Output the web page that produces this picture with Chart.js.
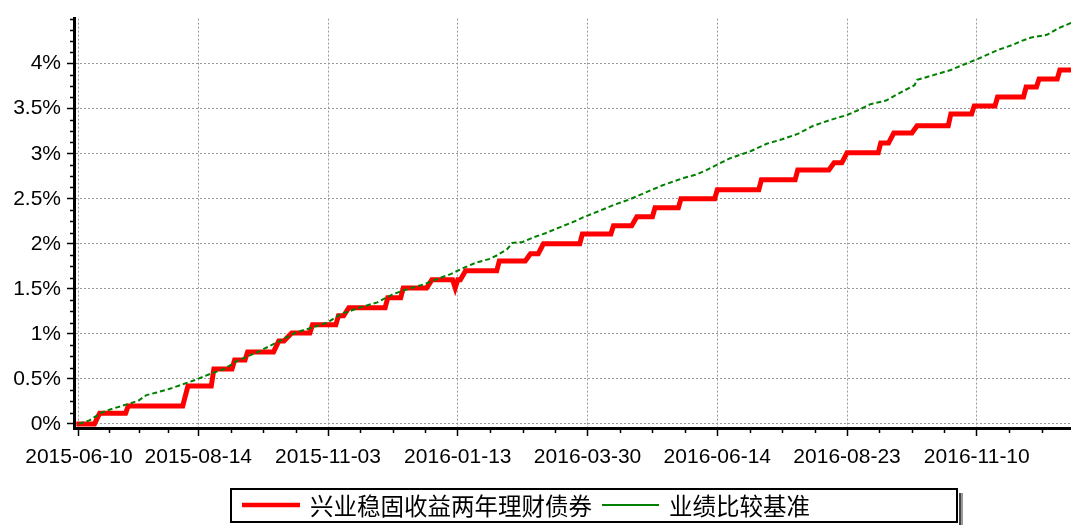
<!DOCTYPE html>
<html>
<head>
<meta charset="utf-8">
<script src="https://cdn.jsdelivr.net/npm/chart.js@4.4.0/dist/chart.umd.min.js"></script>
<style>
  html, body { margin: 0; padding: 0; background: #fff; }
</style>
</head>
<body>
<canvas id="navChart" width="1071" height="525"></canvas>
<script>
// x axis = trading day index, 0 is 2015-06-10
const tickDays = [0, 46, 96, 146, 196, 246, 296, 346];
const tickLabels = ['2015-06-10', '2015-08-14', '2015-11-03', '2016-01-13',
  '2016-03-30', '2016-06-14', '2016-08-23', '2016-11-10'];
const yTicks = [0, 0.5, 1, 1.5, 2, 2.5, 3, 3.5, 4];

const seriesNames = ['兴业稳固收益两年理财债券', '业绩比较基准'];

// fund return (%), only the corners of the step curve
const fundDays = [-1, 6, 8, 18, 19, 40, 42, 51, 52, 59, 60, 64, 65, 75, 77, 79, 82, 89, 90,
  99, 100, 102, 104, 118, 119, 124, 125, 134, 136, 144, 145, 146, 147, 149, 161, 162,
  172, 174, 177, 179, 193, 194, 205, 206, 213, 215, 221, 222, 231, 232, 245, 246,
  262, 263, 276, 277, 289, 291, 294, 296, 308, 309, 312, 314, 321, 323, 335, 336,
  344, 345, 353, 354, 364, 365, 369, 370, 377, 378, 383];
const fundValues = [0, 0, 0.12, 0.12, 0.2, 0.2, 0.42, 0.42, 0.61, 0.61, 0.71, 0.71, 0.8, 0.8,
  0.92, 0.92, 1.01, 1.01, 1.1, 1.1, 1.2, 1.2, 1.29, 1.29, 1.4, 1.4, 1.51, 1.51, 1.6, 1.6,
  1.51, 1.6, 1.6, 1.7, 1.7, 1.81, 1.81, 1.89, 1.89, 2.0, 2.0, 2.11, 2.11, 2.2, 2.2, 2.3,
  2.3, 2.4, 2.4, 2.5, 2.5, 2.6, 2.6, 2.71, 2.71, 2.82, 2.82, 2.9, 2.9, 3.01, 3.01, 3.12,
  3.12, 3.23, 3.23, 3.31, 3.31, 3.44, 3.44, 3.53, 3.53, 3.63, 3.63, 3.74, 3.74, 3.83,
  3.83, 3.93, 3.93];

// benchmark (%)
const benchDays = [0, 4, 9, 13, 20, 23, 26, 30, 35, 39, 45, 51, 56, 61, 69, 78, 84, 90, 96,
  101, 108, 115, 121, 127, 133, 139, 143, 148, 153, 158, 161, 165, 167, 171, 175, 180,
  185, 192, 194, 201, 206, 212, 216, 220, 225, 229, 233, 238, 242, 246, 251, 256, 259,
  265, 271, 277, 283, 289, 296, 300, 305, 311, 316, 322, 323, 329, 336, 341, 347, 354,
  360, 363, 367, 373, 378, 383];
const benchValues = [0, 0.04, 0.13, 0.17, 0.23, 0.26, 0.32, 0.35, 0.39, 0.43, 0.49, 0.56,
  0.61, 0.7, 0.8, 0.93, 1.02, 1.07, 1.13, 1.22, 1.29, 1.35, 1.44, 1.5, 1.55, 1.62, 1.66,
  1.73, 1.79, 1.83, 1.87, 1.94, 2.01, 2.02, 2.07, 2.12, 2.18, 2.26, 2.29, 2.37, 2.43,
  2.49, 2.54, 2.59, 2.65, 2.69, 2.73, 2.77, 2.82, 2.88, 2.95, 3.0, 3.03, 3.11, 3.16,
  3.22, 3.31, 3.37, 3.43, 3.48, 3.55, 3.59, 3.67, 3.76, 3.82, 3.87, 3.93, 3.99, 4.06,
  4.15, 4.21, 4.25, 4.29, 4.32, 4.4, 4.46];

const colors = ['#ff0000', '#008000'];
const tickFont = { family: '"Liberation Sans", Arial, sans-serif', size: 21 };
const legendFont = '23.5px "Noto Sans CJK SC", sans-serif';

// short minor ticks between the labelled ones
const minorTicks = {
  id: 'minorTicks',
  afterDraw(chart) {
    const { ctx, chartArea, scales } = chart;
    ctx.save();
    ctx.strokeStyle = '#000';
    ctx.lineWidth = 1.5;
    ctx.beginPath();
    for (let i = 0; i < tickDays.length; i++) {
      const from = tickDays[i];
      const step = i < tickDays.length - 1 ? (tickDays[i + 1] - from) / 4 : 12.5;
      for (let k = 1; k < 4; k++) {
        const d = from + k * step;
        if (d > scales.x.max) break;
        const px = Math.round(scales.x.getPixelForValue(d)) + 0.5;
        ctx.moveTo(px, chartArea.bottom);
        ctx.lineTo(px, chartArea.bottom + 5);
      }
    }
    for (let v = 0.125; v <= 4.5; v += 0.125) {
      if (Math.abs(v * 2 - Math.round(v * 2)) < 1e-6 && v < 4.4) continue;
      const py = Math.round(scales.y.getPixelForValue(v)) + 0.5;
      ctx.moveTo(chartArea.left - 4, py);
      ctx.lineTo(chartArea.left, py);
    }
    ctx.stroke();
    ctx.restore();
  }
};

// framed legend under the axis
const boxLegend = {
  id: 'boxLegend',
  afterDraw(chart) {
    const ctx = chart.ctx;
    const left = 230, top = 488, right = 958, bottom = 523;
    const cy = 505;
    ctx.save();
    ctx.fillStyle = '#9a9a9a';
    ctx.fillRect(right + 1, top + 5, 4, bottom - top);
    ctx.fillStyle = '#444';
    ctx.fillRect(right + 1, top + 5, 2, bottom - top);
    ctx.fillStyle = '#fff';
    ctx.fillRect(left, top, right - left, bottom - top);
    ctx.strokeStyle = '#000';
    ctx.lineWidth = 2;
    ctx.strokeRect(left + 1, top + 1, right - left - 2, bottom - top - 2);

    ctx.font = legendFont;
    ctx.textBaseline = 'middle';
    ctx.fillStyle = '#000';
    let x = 242;
    const widths = [4.5, 2];
    const lens = [58, 57];
    seriesNames.forEach((name, i) => {
      ctx.strokeStyle = colors[i];
      ctx.lineWidth = widths[i];
      ctx.beginPath();
      ctx.moveTo(x, cy);
      ctx.lineTo(x + lens[i], cy);
      ctx.stroke();
      x += lens[i] + 10;
      ctx.fillText(name, x, cy + 1);
      x += ctx.measureText(name).width + 10;
    });
    ctx.restore();
  }
};

new Chart(document.getElementById('navChart'), {
  type: 'line',
  data: {
    datasets: [{
      label: seriesNames[0],
      data: fundDays.map((d, i) => ({ x: d, y: fundValues[i] })),
      borderColor: colors[0],
      borderWidth: 5,
      pointRadius: 0,
      order: 1,
    }, {
      label: seriesNames[1],
      data: benchDays.map((d, i) => ({ x: d, y: benchValues[i] })),
      borderColor: colors[1],
      borderWidth: 2,
      borderDash: [5, 3],
      pointRadius: 0,
      order: 0,
    }],
  },
  options: {
    responsive: false,
    animation: false,
    layout: { padding: { top: 15, left: 0, right: 0, bottom: 0 } },
    plugins: {
      legend: { display: false },
      tooltip: { enabled: false },
    },
    scales: {
      x: {
        type: 'linear',
        min: -1.9,
        max: 382.3,
        afterBuildTicks: s => { s.ticks = tickDays.map(v => ({ value: v })); },
        afterFit: s => { s.height = 97; },
        ticks: {
          autoSkip: false,
          maxRotation: 0,
          padding: 9,
          color: '#000',
          font: tickFont,
          callback: (v, i) => tickLabels[i],
        },
        grid: { color: '#999', lineWidth: 1, tickColor: '#000', tickLength: 8, tickWidth: 1.5 },
        border: { color: '#000', width: 3, dash: [2, 2] },
      },
      y: {
        min: -0.045,
        max: 4.5,
        afterBuildTicks: s => { s.ticks = yTicks.map(v => ({ value: v })); },
        afterFit: s => { s.width = 74; },
        ticks: {
          padding: 6,
          color: '#000',
          font: tickFont,
          callback: v => v + '%',
        },
        grid: { color: '#999', lineWidth: 1, tickColor: '#000', tickLength: 7, tickWidth: 1.5 },
        border: { color: '#000', width: 3, dash: [2, 2] },
      },
    },
  },
  plugins: [minorTicks, boxLegend],
});
</script>
</body>
</html>
